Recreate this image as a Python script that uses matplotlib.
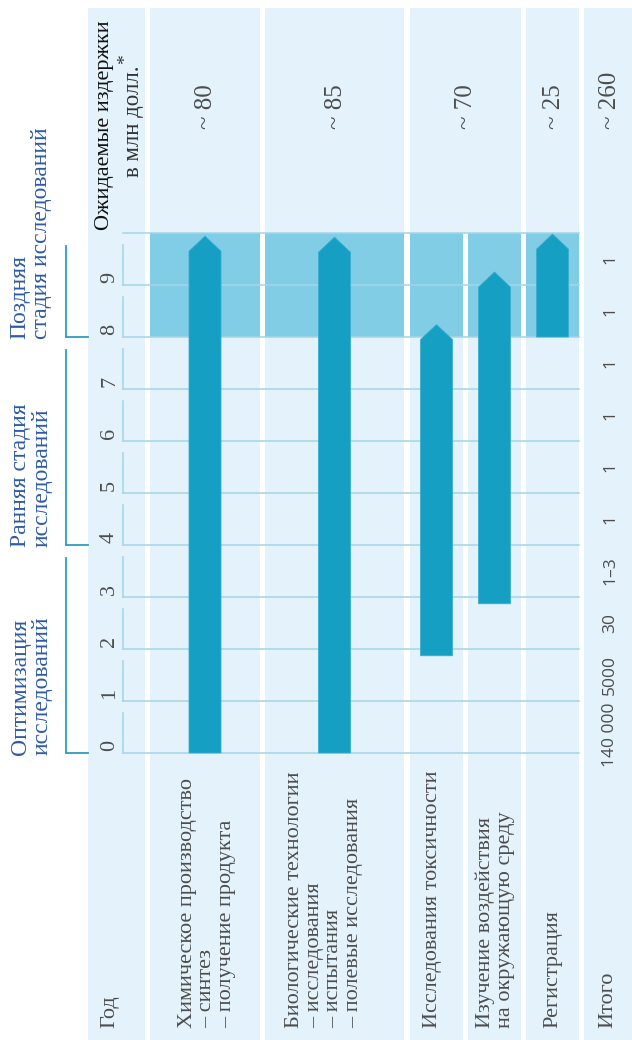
import matplotlib
matplotlib.use("Agg")
import matplotlib.pyplot as plt
from matplotlib.patches import Rectangle

# --- data ---
years = list(range(0, 11))          # grid lines 0..10
year_labels = [str(y) for y in range(0, 10)]

activities = [
    "Химическое производство\n– синтез\n– получение продукта",
    "Биологические технологии\n– исследования\n– испытания\n– полевые исследования",
    "Исследования токсичности",
    "Изучение воздействия\nна окружающую среду",
    "Регистрация",
]
bar_start = [0.0, 0.0, 1.87, 2.87, 8.0]     # year where each activity starts
bar_tip = [9.94, 9.92, 8.24, 9.25, 9.98]    # year of arrow tip

costs = ["~ 80", "~ 85", "~ 70", "~ 25"]    # toxicity + environment share one cell
cost_cols = [[0], [1], [2, 3], [4]]
total_cost = "~ 260"

compounds = ["140 000", "5000", "30", "1–3", "1", "1", "1", "1", "1", "1"]

phases = ["Оптимизация\nисследований", "Ранняя стадия\nисследований",
          "Поздняя\nстадия исследований"]
phase_start = [0, 4, 8]
phase_end = [3.75, 7.75, 9.75]
late_stage = (8, 10)

# --- colours / layout ---
BG = "#e4f3fb"
HL = "#82cde6"
BAR = "#159fc3"
GRID = "#a3d4e7"
BRACKET = "#2b9dc7"
BLUE = "#2e5ba6"
GRAY = "#4d4d4d"
SERIF = ["Liberation Serif", "DejaVu Serif"]
SANS = ["Open Sans", "DejaVu Sans"]

W, H = 632, 1040
col_l = [150, 265, 410, 468, 526]
col_r = [260, 404, 463, 521, 579]
god_col = (88, 145)
tot_col = (584, 632)
PX0, PXY = 753, 52.0   # pixel of year 0, pixels per year


def yr(px):
    return (PX0 - px) / PXY


fig = plt.figure(figsize=(W / 100, H / 100), dpi=100)
ax = fig.add_axes([0, 0, 1, 1])
ax.set_xlim(0, W)
ax.set_ylim(yr(H), yr(0))
ax.axis("off")

top = yr(8)
bottom = yr(H)
ymax = years[-1]

# column backgrounds
for l, r in [god_col, tot_col]:
    ax.add_patch(Rectangle((l, bottom), r - l, top - bottom, color=BG, lw=0, zorder=0))
for l, r in zip(col_l, col_r):
    ax.add_patch(Rectangle((l, bottom), r - l, ymax - bottom, color=BG, lw=0, zorder=0))
    ax.add_patch(Rectangle((l, late_stage[0]), r - l, late_stage[1] - late_stage[0],
                           color=HL, lw=0, zorder=1))
for cols in cost_cols:
    l, r = col_l[cols[0]], col_r[cols[-1]]
    ax.add_patch(Rectangle((l, ymax), r - l, top - ymax, color=BG, lw=0, zorder=0))

# grid
gx0, gx1 = 123, 579
for y in years:
    ax.plot([gx0, gx1], [y, y], color=GRID, lw=1.1, zorder=2)
for y in years[:-1]:
    ax.plot([gx0, gx0], [y, y + 0.76], color=GRID, lw=1.1, zorder=2)

# arrows
head = 0.29
hw = 16
for i in range(len(activities)):
    cx = (col_l[i] + col_r[i]) / 2
    s, t = bar_start[i], bar_tip[i]
    e = t - head
    ax.fill([cx - hw, cx + hw, cx + hw, cx, cx - hw], [s, s, e, t, e],
            color=BAR, ec="#3aaed0", lw=0.6, zorder=3)

# year labels
gx = (god_col[0] + god_col[1]) / 2 - 7
for i, lab in enumerate(year_labels):
    ax.text(gx, i + 0.03, lab, rotation=90, rotation_mode="anchor", ha="left",
            va="center", fontsize=16, color=GRAY, family=SERIF, zorder=4)

# compounds per year (total column); the long first value ends at the year-1 line
tx = (tot_col[0] + tot_col[1]) / 2 + 2
for i, lab in enumerate(compounds):
    if i == 0:
        y, ha = i + 0.97, "right"
    else:
        y, ha = i + 0.5, "center"
    ax.text(tx, y, lab, rotation=90, rotation_mode="anchor", ha=ha,
            va="center", fontsize=12.5, color=GRAY, family=SANS, zorder=4)

# cost row
for lab, cols in zip(costs, cost_cols):
    cx = (col_l[cols[0]] + col_r[cols[-1]]) / 2 + 1
    ax.text(cx, 12.0, lab, rotation=90, rotation_mode="anchor", ha="left",
            va="center", fontsize=18, color=GRAY, family=SERIF, zorder=4)
ax.text(tx, 12.0, total_cost, rotation=90, rotation_mode="anchor", ha="left",
        va="center", fontsize=18, color=GRAY, family=SERIF, zorder=4)
ax.text(105, 10.06, "Ожидаемые издержки", rotation=90, rotation_mode="anchor",
        ha="left", va="center", fontsize=16, color="#111111", family=SERIF, zorder=4)
unit = ax.text(134, 11.08, "в млн долл.", rotation=90, rotation_mode="anchor",
               ha="left", va="center", fontsize=16.5, color="#333333", family=SERIF,
               zorder=4)
# asterisk as a superscript right after the unit text
fig.canvas.draw()
bb = unit.get_window_extent().transformed(ax.transData.inverted())
ax.text(126, bb.y1 + 0.02, "*", rotation=90, rotation_mode="anchor",
        ha="left", va="center", fontsize=14, color="#333333", family=SERIF, zorder=4)

# bottom labels
lab_y = yr(1028)
ax.text(gx, lab_y, "Год", rotation=90, rotation_mode="anchor", ha="left",
        va="center", fontsize=16, color=GRAY, family=SERIF, zorder=4)
lab_x = [207, 324, 433, 495, 553]
for x, lab in zip(lab_x, activities):
    ax.text(x, lab_y, lab, rotation=90, rotation_mode="anchor", ha="left",
            va="center", fontsize=16, color=GRAY, family=SERIF, linespacing=1.05,
            multialignment="left", zorder=4)
ax.text(608, lab_y, "Итого", rotation=90, rotation_mode="anchor", ha="left",
        va="center", fontsize=16, color=GRAY, family=SERIF, zorder=4)

# phase brackets and labels
bx = 66
for lab, s, e in zip(phases, phase_start, phase_end):
    ax.plot([bx, bx], [s, e], color=BRACKET, lw=1.3, zorder=4)
    ax.plot([bx, god_col[0]], [s, s], color=BRACKET, lw=1.3, zorder=4)
    ax.text(31, s - 0.04, lab, rotation=90, rotation_mode="anchor", ha="left",
            va="center", fontsize=17, color=BLUE, family=SERIF, linespacing=1.05,
            multialignment="left", zorder=4)

fig.savefig("out.png", dpi=100)
